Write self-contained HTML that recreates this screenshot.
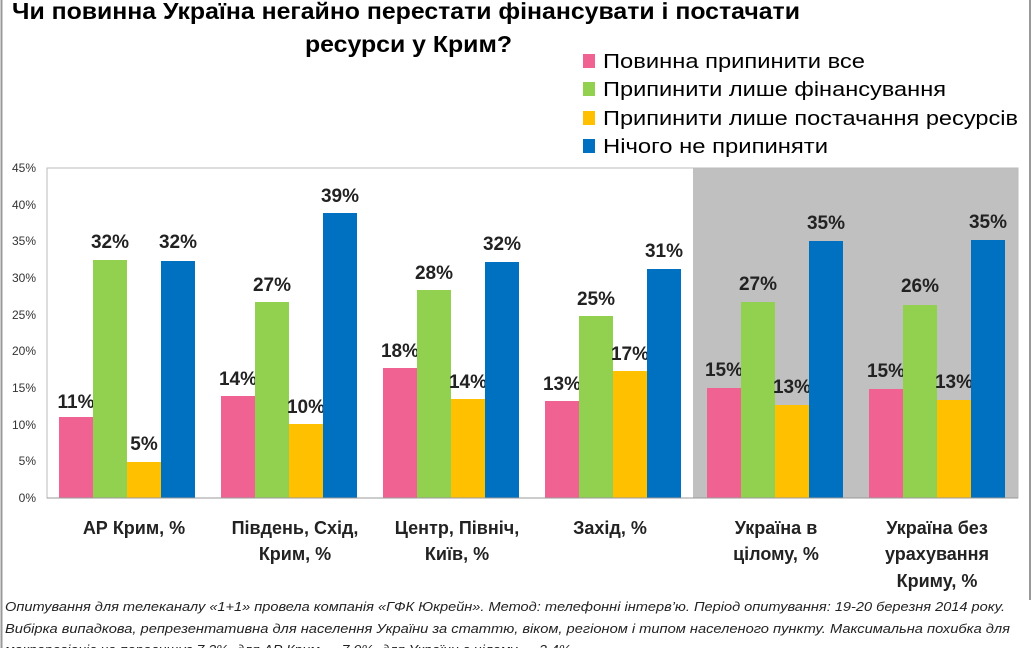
<!DOCTYPE html>
<html><head><meta charset="utf-8"><style>
body{margin:0;background:#fff;}
svg text{font-family:"Liberation Sans","DejaVu Sans",sans-serif;}
</style></head><body>
<svg width="1036" height="648" xmlns="http://www.w3.org/2000/svg">
<rect width="1036" height="648" fill="#fff"/>
<line x1="1.5" y1="0" x2="1.5" y2="648" stroke="#999" stroke-width="2"/>
<line x1="1030" y1="0" x2="1030" y2="600" stroke="#999" stroke-width="2"/>
<text x="12" y="19" font-size="23" font-weight="bold" textLength="788" lengthAdjust="spacingAndGlyphs">Чи повинна Україна негайно перестати фінансувати  і постачати</text>
<text x="305" y="52" font-size="23" font-weight="bold" textLength="207" lengthAdjust="spacingAndGlyphs">ресурси  у Крим?</text>
<g font-size="20">
<rect x="583" y="54" width="12" height="14" fill="#f06292"/><text x="603" y="68" textLength="262" lengthAdjust="spacingAndGlyphs">Повинна припинити все</text>
<rect x="583" y="82" width="12" height="14" fill="#92d050"/><text x="603" y="96" textLength="343" lengthAdjust="spacingAndGlyphs">Припинити лише фінансування</text>
<rect x="583" y="111" width="12" height="14" fill="#ffc000"/><text x="603" y="125" textLength="415" lengthAdjust="spacingAndGlyphs">Припинити лише постачання ресурсів</text>
<rect x="583" y="139" width="12" height="14" fill="#0070c0"/><text x="603" y="153" textLength="225" lengthAdjust="spacingAndGlyphs">Нічого не припиняти</text>
</g>
<rect x="693" y="168" width="325" height="330" fill="#c0c0c0"/>
<rect x="47" y="168" width="971" height="330" fill="none" stroke="#bbb"/>
<g font-size="12" fill="#333" text-anchor="end">
<text x="36" y="502">0%</text><text x="36" y="465">5%</text><text x="36" y="429">10%</text><text x="36" y="392">15%</text><text x="36" y="355">20%</text><text x="36" y="319">25%</text><text x="36" y="282">30%</text><text x="36" y="245">35%</text><text x="36" y="209">40%</text><text x="36" y="172">45%</text>
</g>
<g font-size="19" font-weight="bold" fill="#222" text-anchor="middle">
<rect x="59" y="417" width="34" height="81" fill="#f06292"/><text x="76" y="408">11%</text>
<rect x="93" y="260" width="34" height="238" fill="#92d050"/><text x="110" y="248">32%</text>
<rect x="127" y="462" width="34" height="36" fill="#ffc000"/><text x="144" y="450">5%</text>
<rect x="161" y="261" width="34" height="237" fill="#0070c0"/><text x="178" y="248">32%</text>
<rect x="221" y="396" width="34" height="102" fill="#f06292"/><text x="238" y="385">14%</text>
<rect x="255" y="302" width="34" height="196" fill="#92d050"/><text x="272" y="291">27%</text>
<rect x="289" y="424" width="34" height="74" fill="#ffc000"/><text x="306" y="413">10%</text>
<rect x="323" y="213" width="34" height="285" fill="#0070c0"/><text x="340" y="202">39%</text>
<rect x="383" y="368" width="34" height="130" fill="#f06292"/><text x="400" y="357">18%</text>
<rect x="417" y="290" width="34" height="208" fill="#92d050"/><text x="434" y="279">28%</text>
<rect x="451" y="399" width="34" height="99" fill="#ffc000"/><text x="468" y="388">14%</text>
<rect x="485" y="262" width="34" height="236" fill="#0070c0"/><text x="502" y="250">32%</text>
<rect x="545" y="401" width="34" height="97" fill="#f06292"/><text x="562" y="390">13%</text>
<rect x="579" y="316" width="34" height="182" fill="#92d050"/><text x="596" y="305">25%</text>
<rect x="613" y="371" width="34" height="127" fill="#ffc000"/><text x="630" y="360">17%</text>
<rect x="647" y="269" width="34" height="229" fill="#0070c0"/><text x="664" y="257">31%</text>
<rect x="707" y="388" width="34" height="110" fill="#f06292"/><text x="724" y="376">15%</text>
<rect x="741" y="302" width="34" height="196" fill="#92d050"/><text x="758" y="290">27%</text>
<rect x="775" y="405" width="34" height="93" fill="#ffc000"/><text x="792" y="393">13%</text>
<rect x="809" y="241" width="34" height="257" fill="#0070c0"/><text x="826" y="229">35%</text>
<rect x="869" y="389" width="34" height="109" fill="#f06292"/><text x="886" y="377">15%</text>
<rect x="903" y="305" width="34" height="193" fill="#92d050"/><text x="920" y="292">26%</text>
<rect x="937" y="400" width="34" height="98" fill="#ffc000"/><text x="954" y="388">13%</text>
<rect x="971" y="240" width="34" height="258" fill="#0070c0"/><text x="988" y="228">35%</text>
</g>
<line x1="47" y1="498" x2="1018" y2="498" stroke="#999"/>
<g font-size="18" font-weight="bold" fill="#222" text-anchor="middle">
<text x="134" y="534">АР Крим, %</text>
<text x="295" y="534">Південь, Схід,</text><text x="295" y="560">Крим, %</text>
<text x="457" y="534">Центр, Північ,</text><text x="457" y="560">Київ, %</text>
<text x="610" y="534">Захід, %</text>
<text x="776" y="534">Україна в</text><text x="776" y="560">цілому, %</text>
<text x="937" y="534">Україна без</text><text x="937" y="560">урахування</text><text x="937" y="587">Криму, %</text>
</g>
<g font-size="13" font-style="italic" fill="#222">
<text x="5" y="611" textLength="1000" lengthAdjust="spacingAndGlyphs">Опитування для телеканалу «1+1» провела компанія «ГФК Юкрейн». Метод: телефонні інтерв’ю. Період опитування: 19-20 березня 2014  року.</text>
<text x="5" y="633" textLength="1005" lengthAdjust="spacingAndGlyphs">Вибірка випадкова, репрезентативна для населення України за статтю, віком, регіоном і типом населеного пункту. Максимальна похибка для</text>
<text x="5" y="654" textLength="570" lengthAdjust="spacingAndGlyphs">макрорегіонів не перевищує 7,3%, для АР Крим — 7,0%, для України в цілому — 3,4%.</text>
</g>
</svg>
</body></html>
